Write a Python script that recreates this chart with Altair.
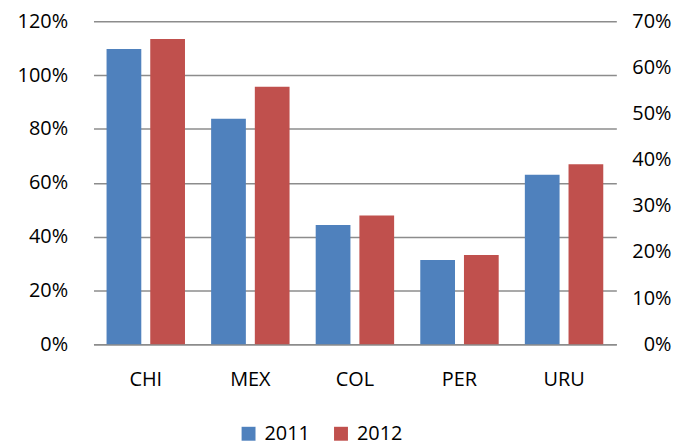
import altair as alt
import pandas as pd

countries = ["CHI", "MEX", "COL", "PER", "URU"]
years = ["2011", "2012"]
v2011 = [1.097, 0.838, 0.443, 0.313, 0.630]
v2012 = [1.134, 0.957, 0.478, 0.332, 0.669]
left_ticks = [0, 0.2, 0.4, 0.6, 0.8, 1.0, 1.2]
right_ticks = [0, 0.1, 0.2, 0.3, 0.4, 0.5, 0.6, 0.7]
colors = ["#4F81BD", "#C0504D"]

rows = []
for c, a, b in zip(countries, v2011, v2012):
    rows.append({"country": c, "year": "2011", "value": a})
    rows.append({"country": c, "year": "2012", "value": b})
df = pd.DataFrame(rows)

FONT = "Open Sans"
FS = 20

bars = alt.Chart(df).mark_bar().encode(
    x=alt.X("country:N", sort=countries,
            scale=alt.Scale(paddingInner=0.25, paddingOuter=0.125),
            axis=alt.Axis(title=None, labelAngle=0, ticks=False, domainColor="#8c8c8c",
                          domainWidth=1.5, labelPadding=25, labelFontSize=FS,
                          labelFont=FONT, labelColor="#000")),
    xOffset=alt.XOffset("year:N", sort=years,
                        scale=alt.Scale(paddingInner=0.205, paddingOuter=0)),
    y=alt.Y("value:Q", scale=alt.Scale(domain=[0, 1.2]),
            axis=alt.Axis(title=None, orient="left", format=".0%", values=left_ticks,
                          grid=True, gridColor="#8c8c8c", gridWidth=1.5, domain=False,
                          ticks=False, labelPadding=26, labelFontSize=FS,
                          labelFont=FONT, labelColor="#000")),
    color=alt.Color("year:N", sort=years,
                    scale=alt.Scale(domain=years, range=colors),
                    legend=alt.Legend(title=None, orient="none", legendX=146, legendY=405,
                                      direction="horizontal", symbolType="square",
                                      symbolSize=196, symbolStrokeWidth=0,
                                      labelFontSize=FS, labelFont=FONT, labelColor="#000",
                                      labelOffset=6, columnPadding=21)),
)

right_df = pd.DataFrame({"r": [0.0, 0.7]})
right = alt.Chart(right_df).mark_point(opacity=0).encode(
    y=alt.Y("r:Q", scale=alt.Scale(domain=[0, 0.7]),
            axis=alt.Axis(title=None, orient="right", format=".0%", values=right_ticks,
                          grid=False, domain=False, ticks=False, labelAlign="right",
                          labelPadding=55, labelFontSize=FS, labelFont=FONT,
                          labelColor="#000")),
)

chart = alt.layer(bars, right).resolve_scale(y="independent").properties(
    width=526, height=325,
    autosize=alt.AutoSizeParams(type="none"),
    padding={"left": 86, "top": 12, "right": 57, "bottom": 100},
).configure_view(stroke=None)

chart.save("out.html", embed_options={"renderer": "svg", "actions": False})
